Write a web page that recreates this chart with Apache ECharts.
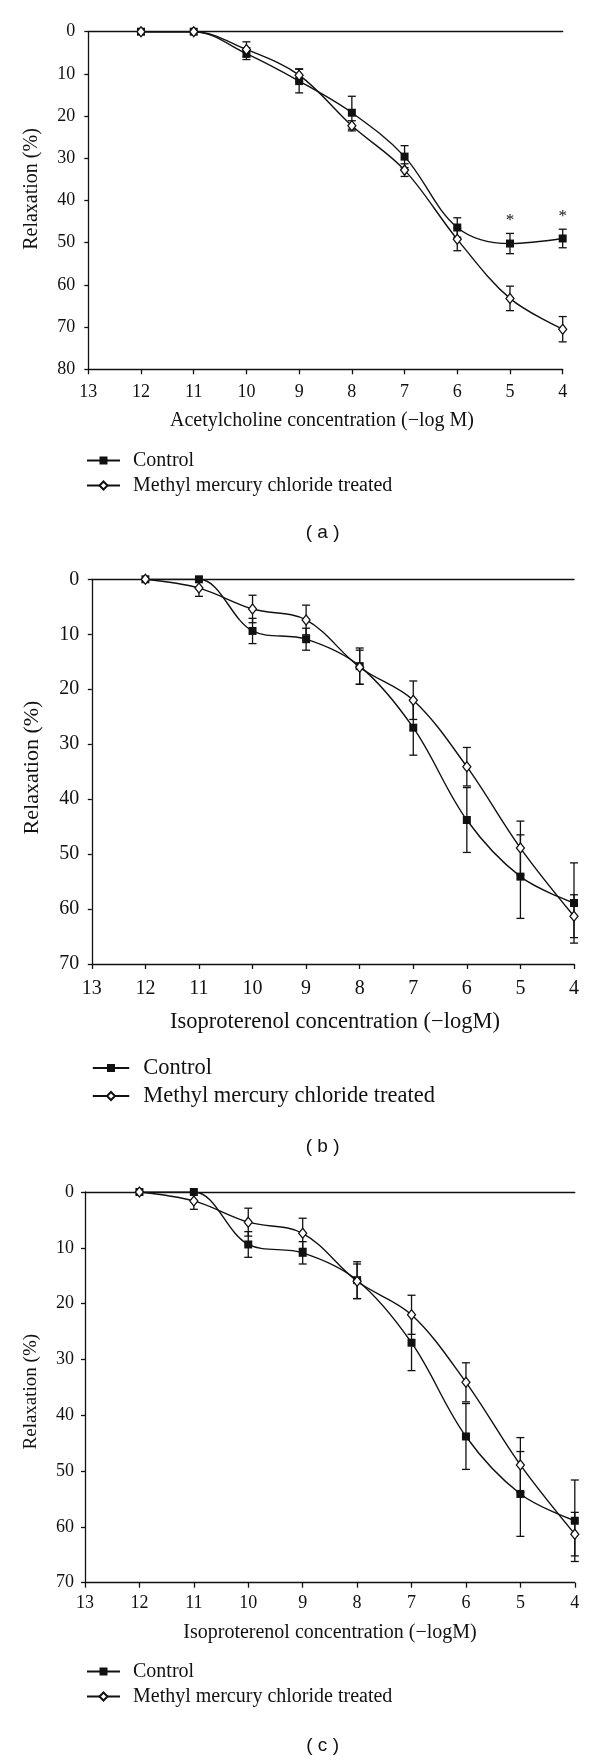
<!DOCTYPE html>
<html><head><meta charset="utf-8">
<script src="https://cdn.jsdelivr.net/npm/echarts@6/dist/echarts.min.js"></script>
<style>html,body{margin:0;padding:0;background:#fff}#c{width:600px;height:1760px}</style>
</head><body><div id="c"></div>
<script>
// ---- data ----
const concentrations = [12, 11, 10, 9, 8, 7, 6, 5, 4];   // -log M
const xRange = [4, 13];
const achControl    = [0, 0, 5.2, 11.7, 19.2, 29.6, 46.4, 50.2, 49.0];
const achControlErr = [0, 0, 1.4, 2.8, 3.9, 2.6, 2.3, 2.4, 2.2];
const achMeHg       = [0, 0, 4.2, 10.3, 22.3, 32.8, 49.2, 63.2, 70.5];
const achMeHgErr    = [0, 0, 1.8, 1.5, 1.2, 1.5, 2.7, 2.9, 3.0];
const achSignificance = ['', '', '', '', '', '', '', '*', '*'];
const isoControl    = [0, 0, 9.4, 10.9, 15.8, 27.0, 43.8, 54.1, 58.9];
const isoControlErr = [0, 0, 2.3, 2.0, 3.3, 5.0, 5.9, 7.6, 7.3];
const isoMeHg       = [0, 1.6, 5.4, 7.4, 16.0, 22.0, 34.1, 48.9, 61.3];
const isoMeHgErr    = [0, 1.5, 2.5, 2.7, 3.1, 3.5, 3.5, 4.9, 3.9];
const isoSignificance = ['', '', '', '', '', '', '', '', ''];
const seriesNames = ['Control', 'Methyl mercury chloride treated'];
const xAxisTitles = ['Acetylcholine concentration (\u2212log M)', 'Isoproterenol concentration (\u2212logM)', 'Isoproterenol concentration (\u2212logM)'];
const yAxisTitle = 'Relaxation (%)';
const panelLabels = ['( a )', '( b )', '( c )'];
const yMaxes = [80, 70, 70];

// ---- layout / style ----
const INK = '#111';
const SERIF = '"Liberation Serif", "Times New Roman", serif';
const SANS = '"Liberation Sans", Arial, sans-serif';
const panels = [
  {ctrl: achControl, ctrlErr: achControlErr, me: achMeHg, meErr: achMeHgErr, sig: achSignificance,
   grid: {left: 88.3, right: 37.3, top: 31.7, height: 337.6},
   tick: 18, xMargin: 14, yMargin: 13,
   xTitle: {x: 322, y: 420.7, size: 20}, yTitle: {x: 31.8, y: 189, size: 20},
   legend: {left: 86, top: 450.5, size: 20, w: 33, pad: 8}, label: {x: 322.6, y: 532.7}},
  {ctrl: isoControl, ctrlErr: isoControlErr, me: isoMeHg, meErr: isoMeHgErr, sig: isoSignificance,
   grid: {left: 91.8, right: 26, top: 579.3, height: 384.7},
   tick: 20, xMargin: 15, yMargin: 12.5,
   xTitle: {x: 335, y: 1021.7, size: 22.5}, yTitle: {x: 32.5, y: 767.5, size: 22},
   legend: {left: 91.8, top: 1056.5, size: 22.5, w: 36.4, pad: 9}, label: {x: 322.6, y: 1146.7}},
  {ctrl: isoControl, ctrlErr: isoControlErr, me: isoMeHg, meErr: isoMeHgErr, sig: isoSignificance,
   grid: {left: 85, right: 25.2, top: 1192, height: 390.7},
   tick: 18, xMargin: 12, yMargin: 11,
   xTitle: {x: 330, y: 1632.7, size: 20}, yTitle: {x: 31, y: 1391.7, size: 19},
   legend: {left: 86, top: 1661.5, size: 20, w: 33, pad: 8}, label: {x: 322.6, y: 1746}}
];

const grids = [], xAxes = [], yAxes = [], series = [], legends = [], graphics = [];
const axisLineStyle = {color: INK, width: 1.3};

function errorSeries(pi, vals, errs, sig) {
  return {
    type: 'custom', xAxisIndex: pi * 2, yAxisIndex: pi, z: 1, silent: true,
    data: concentrations.map((c, k) => [c, vals[k] - errs[k], vals[k] + errs[k]]),
    renderItem: function (params, api) {
      const x = api.value(0), lo = api.value(1), hi = api.value(2);
      const pTop = api.coord([x, lo]), pBot = api.coord([x, hi]);
      const w = 4;
      const st = {stroke: INK, lineWidth: 1.3, fill: null};
      const children = [];
      if (hi - lo > 0.01) {
        children.push({type: 'line', shape: {x1: pTop[0], y1: pTop[1], x2: pBot[0], y2: pBot[1]}, style: st});
        children.push({type: 'line', shape: {x1: pTop[0] - w, y1: pTop[1], x2: pTop[0] + w, y2: pTop[1]}, style: st});
        children.push({type: 'line', shape: {x1: pBot[0] - w, y1: pBot[1], x2: pBot[0] + w, y2: pBot[1]}, style: st});
      }
      const s = sig ? sig[params.dataIndex] : '';
      if (s) {
        children.push({type: 'text', x: pTop[0], y: pTop[1] - 4,
          style: {text: s, font: '17px ' + SERIF, fill: INK, align: 'center', verticalAlign: 'bottom'}});
      }
      return {type: 'group', children: children};
    }
  };
}

panels.forEach((p, i) => {
  grids.push(Object.assign({containLabel: false}, p.grid));
  const xBase = {
    gridIndex: i, type: 'value', inverse: true, min: xRange[0], max: xRange[1], interval: 1,
    splitLine: {show: false}
  };
  xAxes.push(Object.assign({}, xBase, {
    position: 'bottom',
    axisLine: {show: true, onZero: false, lineStyle: axisLineStyle},
    axisTick: {show: true, length: 5, lineStyle: axisLineStyle},
    axisLabel: {fontFamily: SERIF, fontSize: p.tick, color: INK, margin: p.xMargin}
  }));
  xAxes.push(Object.assign({}, xBase, {
    position: 'top',
    axisLine: {show: true, onZero: false, lineStyle: axisLineStyle},
    axisTick: {show: false}, axisLabel: {show: false}
  }));
  yAxes.push({
    gridIndex: i, type: 'value', inverse: true, min: 0, max: yMaxes[i], interval: 10,
    splitLine: {show: false},
    axisLine: {show: true, onZero: false, lineStyle: axisLineStyle},
    axisTick: {show: true, length: 4, lineStyle: axisLineStyle},
    axisLabel: {fontFamily: SERIF, fontSize: p.tick, color: INK, margin: p.yMargin}
  });
  series.push(errorSeries(i, p.ctrl, p.ctrlErr, p.sig));
  series.push(errorSeries(i, p.me, p.meErr, null));
  series.push({
    name: seriesNames[0], type: 'line', xAxisIndex: i * 2, yAxisIndex: i, z: 3,
    data: concentrations.map((c, k) => [c, p.ctrl[k]]),
    smooth: 0.35, symbol: 'rect', symbolSize: 8, showAllSymbol: true,
    lineStyle: {color: INK, width: 1.4}, itemStyle: {color: INK, borderColor: INK, borderWidth: 0}
  });
  series.push({
    name: seriesNames[1], type: 'line', xAxisIndex: i * 2, yAxisIndex: i, z: 4,
    data: concentrations.map((c, k) => [c, p.me[k]]),
    smooth: 0.35, symbol: 'diamond', symbolSize: [8, 10], showAllSymbol: true,
    lineStyle: {color: INK, width: 1.4}, itemStyle: {color: '#fff', borderColor: INK, borderWidth: 1.3}
  });
  legends.push({
    orient: 'vertical', left: p.legend.left, top: p.legend.top, padding: 0,
    itemWidth: p.legend.w, itemHeight: 10, itemGap: 5, selectedMode: false,
    data: seriesNames,
    textStyle: {fontFamily: SERIF, fontSize: p.legend.size, color: INK, padding: [0, 0, 0, p.legend.pad]}
  });
  graphics.push({type: 'text', x: p.xTitle.x, y: p.xTitle.y, silent: true,
    style: {text: xAxisTitles[i], font: p.xTitle.size + 'px ' + SERIF, fill: INK, align: 'center', verticalAlign: 'middle'}});
  graphics.push({type: 'text', x: p.yTitle.x, y: p.yTitle.y, rotation: Math.PI / 2, silent: true,
    style: {text: yAxisTitle, font: p.yTitle.size + 'px ' + SERIF, fill: INK, align: 'center', verticalAlign: 'middle'}});
  graphics.push({type: 'text', x: p.label.x, y: p.label.y, silent: true,
    style: {text: panelLabels[i], font: '19px ' + SANS, fill: INK, align: 'center', verticalAlign: 'middle'}});
});

const chart = echarts.init(document.getElementById('c'), null, {renderer: 'canvas'});
chart.setOption({
  animation: false,
  backgroundColor: '#fff',
  grid: grids, xAxis: xAxes, yAxis: yAxes, series: series, legend: legends,
  graphic: graphics
});
</script>
</body></html>
